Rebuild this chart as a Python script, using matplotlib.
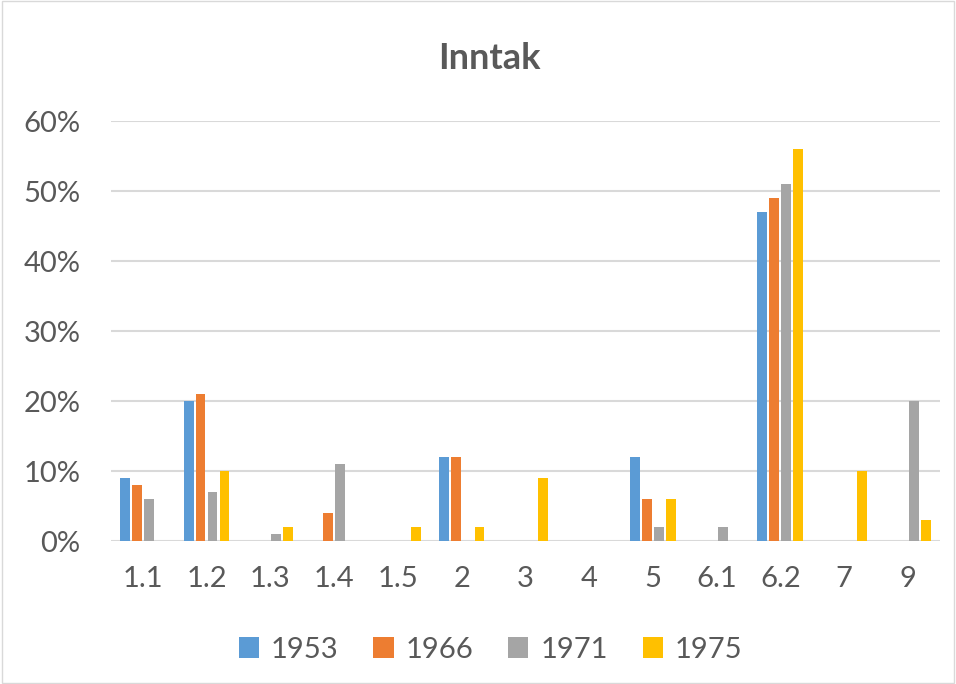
import numpy as np
import matplotlib.pyplot as plt
from matplotlib.ticker import PercentFormatter

plt.rcParams['font.family'] = ['Lato', 'DejaVu Sans']

# data (percent)
categories = ['1.1', '1.2', '1.3', '1.4', '1.5', '2', '3', '4', '5', '6.1', '6.2', '7', '9']
years = ['1953', '1966', '1971', '1975']
v1953 = [9, 20, 0, 0, 0, 12, 0, 0, 12, 0, 47, 0, 0]
v1966 = [8, 21, 0, 4, 0, 12, 0, 0, 6, 0, 49, 0, 0]
v1971 = [6, 7, 1, 11, 0, 0, 0, 0, 2, 2, 51, 0, 20]
v1975 = [0, 10, 2, 0, 2, 2, 9, 0, 6, 0, 56, 10, 3]
colors = ['#5B9BD5', '#ED7D31', '#A5A5A5', '#FFC000']

series = [v1953, v1966, v1971, v1975]

fig = plt.figure(figsize=(9.56, 6.84), dpi=100)
ax = fig.add_axes([0.116, 0.209, 0.867, 0.614])

x = np.arange(len(categories))
step = 0.1875
width = 0.155
for i, (vals, col, yr) in enumerate(zip(series, colors, years)):
    ax.bar(x + (i - 1.5) * step, np.array(vals) / 100, width, color=col, label=yr, zorder=3)

ax.set_xlim(-0.5, len(categories) - 0.5)
ax.set_ylim(0, 0.6)
ax.set_yticks(np.arange(0, 0.61, 0.1))
ax.yaxis.set_major_formatter(PercentFormatter(1.0, decimals=0))
ax.set_xticks(x)
ax.set_xticklabels(categories)
ax.grid(axis='y', color='#D9D9D9', linewidth=1.5, zorder=0)
for s in ax.spines.values():
    s.set_visible(False)
ax.tick_params(length=0, labelsize=21, colors='#595959')
ax.tick_params(axis='x', pad=18)
ax.tick_params(axis='y', pad=22)

fig.text(0.512, 0.915, 'Inntak', ha='center', va='center', fontsize=26,
         fontweight='bold', color='#595959')

leg = fig.legend(loc='center', bbox_to_anchor=(0.513, 0.05), ncol=4, frameon=False,
                 fontsize=21, handlelength=0.7, handleheight=0.7, handletextpad=0.4,
                 columnspacing=1.2)
for t in leg.get_texts():
    t.set_color('#595959')

# outer border
fig.patches.append(plt.Rectangle((0.002, 0.002), 0.996, 0.996, transform=fig.transFigure,
                                 fill=False, edgecolor='#D9D9D9', linewidth=1))

fig.savefig('out.png', dpi=100)
